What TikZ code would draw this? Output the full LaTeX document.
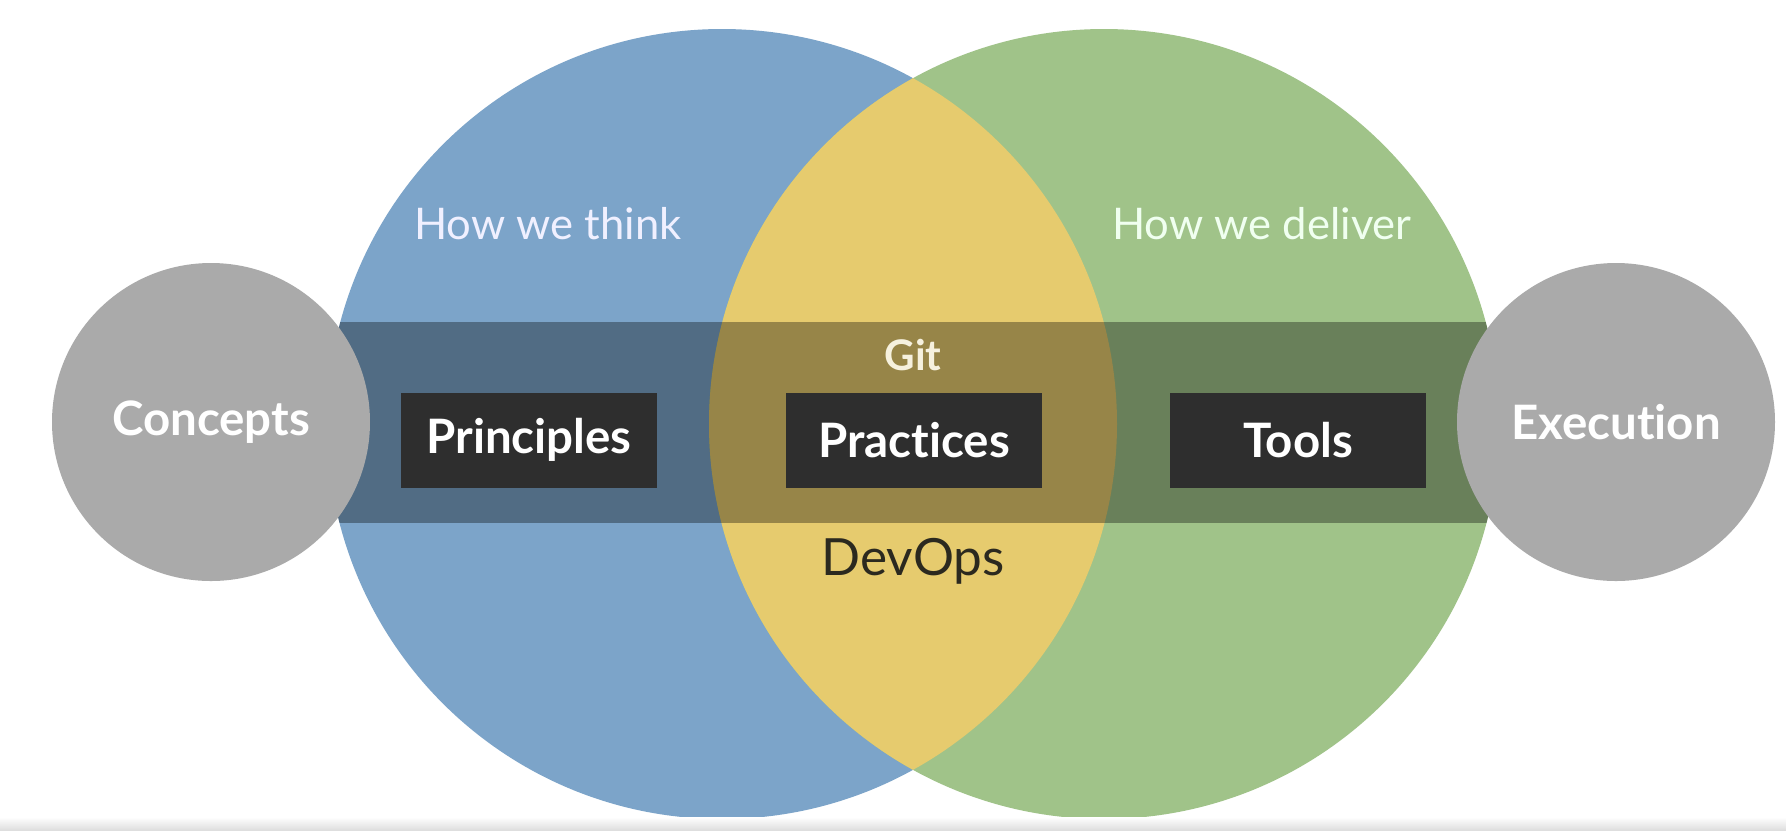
\documentclass[tikz,border=0pt]{standalone}
\usepackage{fontspec}
\setmainfont{Lato}[Ligatures=NoCommon]
\usetikzlibrary{positioning}
\definecolor{thinkblue}{HTML}{7CA4C9}
\definecolor{delivergreen}{HTML}{A0C389}
\definecolor{overlapyellow}{HTML}{E6CB6E}
\definecolor{sidegray}{HTML}{AAAAAA}
\definecolor{boxblack}{HTML}{2E2E2E}
\definecolor{gitcream}{HTML}{F6F1DE}
\definecolor{devopsdark}{HTML}{2B291F}

\begin{document}
\begin{tikzpicture}[
	venn/.style={circle, minimum size=7.9cm, inner sep=0pt},
	side/.style={circle, fill=sidegray, minimum size=3.18cm, inner sep=0pt, text=white, font=\fontsize{13.5}{16}\selectfont\bfseries},
	pillar/.style={fill=boxblack, minimum width=2.56cm, minimum height=0.95cm, inner sep=0pt, text=white, font=\fontsize{13.5}{16}\selectfont\bfseries},
	heading/.style={inner sep=0pt, text=white!94!blue, font=\fontsize{12.4}{15}\selectfont}
	]
	\useasboundingbox (0,0) rectangle (17.86,-8.30);
	\fill[white] (0,0) rectangle (17.86,-8.30);
	% the two big circles
	\node[venn, fill=thinkblue] (think) at (7.22,-4.24) {};
	\node[venn, fill=delivergreen] (deliver) at (11.04,-4.24) {};
	\begin{scope}
		\clip (think.center) circle (3.95);
		\fill[overlapyellow] (deliver.center) circle (3.95);
	\end{scope}
	% dark band across both circles
	\begin{scope}
		\clip (think.center) circle (3.95) (deliver.center) circle (3.95);
		\fill[black, opacity=0.34] (3,-3.22) rectangle (15,-5.23);
	\end{scope}
	\node[side] (concepts) at (2.11,-4.22) {Concepts};
	\node[side] (execution) at (16.16,-4.22) {Execution};
	\node[pillar] (principles) at (5.29,-4.40) {Principles};
	\node[pillar] (practices) at (9.14,-4.40) {Practices};
	\node[pillar] (tools) at (12.98,-4.40) {Tools};
	\node[heading] (thinktext) at (5.48,-2.24) {How we think};
	\node[heading, text=white!94!green] (delivertext) at (12.62,-2.24) {How we deliver};
	\node[inner sep=0pt, text=gitcream, font=\fontsize{12}{14}\selectfont\bfseries] (git) at (9.13,-3.55) {Git};
	\node[inner sep=0pt, text=devopsdark, font=\fontsize{14.6}{18}\selectfont] (devops) at (9.13,-5.61) {DevOps};
	% faint shadow along the bottom edge
	\fill[top color=white, bottom color=black!13] (0,-8.17) rectangle (17.86,-8.30);
\end{tikzpicture}
\end{document}
